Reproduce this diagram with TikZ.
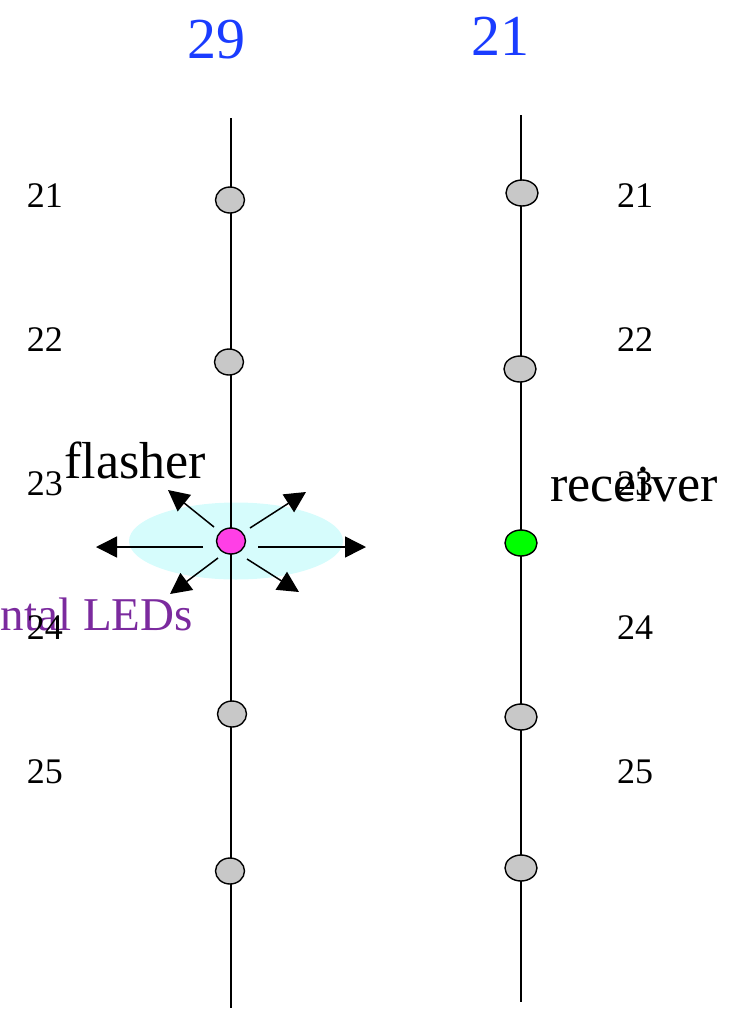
\documentclass[tikz,border=0pt]{standalone}
\usepackage{fontspec}
\setmainfont{Liberation Serif}
\usetikzlibrary{arrows.meta,shapes.geometric}
\definecolor{ledgray}{HTML}{C8C8C8}
\definecolor{ledmag}{HTML}{FF3FE6}
\definecolor{ledgreen}{HTML}{00FF00}
\definecolor{glow}{HTML}{D6FCFC}
\definecolor{ttlblue}{HTML}{1A3CFF}
\definecolor{ledpurple}{HTML}{7B2A9E}
\tikzset{
  x=1pt, y=-1pt,
  led/.style={ellipse, draw=black, line width=1.4pt, minimum width=29pt, minimum height=26pt, inner sep=0pt},
  grayled/.style={led, fill=ledgray},
  wire/.style={line width=1.6pt},
  ray/.style={line width=1.5pt, -{Triangle[length=21pt,width=21pt]}},
  num/.style={font=\fontsize{36}{36}\selectfont, inner sep=0pt},
  ttl/.style={font=\fontsize{58}{58}\selectfont, text=ttlblue, inner sep=0pt},
  word/.style={font=\fontsize{52}{52}\selectfont, inner sep=0pt}
}
\begin{document}
\begin{tikzpicture}
\useasboundingbox (0,0) rectangle (740,1013);
% glow
\fill[glow] (236,541) ellipse [x radius=107, y radius=38.5];
% wires
\coordinate (ltop) at (231,118);
\coordinate (lbot) at (231,1008);
\coordinate (rtop) at (521,115);
\coordinate (rbot) at (521,1002);
\draw[wire] (ltop) -- (lbot);
\draw[wire] (rtop) -- (rbot);
% left LEDs
\node[grayled] (l1) at (230,200) {};
\node[grayled] (l2) at (229,362) {};
\node[led, fill=ledmag] (fl) at (231,541) {};
\node[grayled] (l4) at (232,714) {};
\node[grayled] (l5) at (230,871) {};
% right LEDs
\node[grayled, minimum width=32pt] (r1) at (522,193) {};
\node[grayled, minimum width=32pt] (r2) at (520,369) {};
\node[led, fill=ledgreen, minimum width=32pt] (rc) at (521,543) {};
\node[grayled, minimum width=32pt] (r4) at (521,717) {};
\node[grayled, minimum width=32pt] (r5) at (521,868) {};
% rays
\coordinate (aL) at (96,547);
\coordinate (aR) at (366,547);
\coordinate (aUL) at (168,490);
\coordinate (aUR) at (306,492);
\coordinate (aDL) at (170,594);
\coordinate (aDR) at (299,592);
\coordinate (sL) at (203,547);
\coordinate (sR) at (258,547);
\coordinate (sUL) at (214,527);
\coordinate (sUR) at (250,528);
\coordinate (sDL) at (218,558);
\coordinate (sDR) at (247,559);
\draw[ray] (sL) -- (aL);
\draw[ray] (sR) -- (aR);
\draw[ray] (sUL) -- (aUL);
\draw[ray] (sUR) -- (aUR);
\draw[ray] (sDL) -- (aDL);
\draw[ray] (sDR) -- (aDR);
% titles
\node[ttl] (t29) at (216,40) {29};
\node[ttl] (t21) at (500,36) {21};
% left numbers
\node[num] (nl1) at (45,196) {21};
\node[num] (nl2) at (45,340) {22};
\node[num] (nl3) at (45,484) {23};
\node[text=ledpurple, anchor=base east, inner sep=0pt, font=\fontsize{47}{47}\selectfont] (leds) at (193,630) {ntal LEDs};
\node[num] (nl4) at (45,628) {24};
\node[num] (nl5) at (45,772) {25};
% right numbers
\node[num] (nr1) at (635,196) {21};
\node[num] (nr2) at (635,340) {22};
\node[num] (nr3) at (635,484) {23};
\node[num] (nr4) at (635,628) {24};
\node[num] (nr5) at (635,772) {25};
% words
\node[word] (flasher) at (135,460) {flasher};
\node[word] (receiver) at (634,485) {receiver};
\end{tikzpicture}
\end{document}
